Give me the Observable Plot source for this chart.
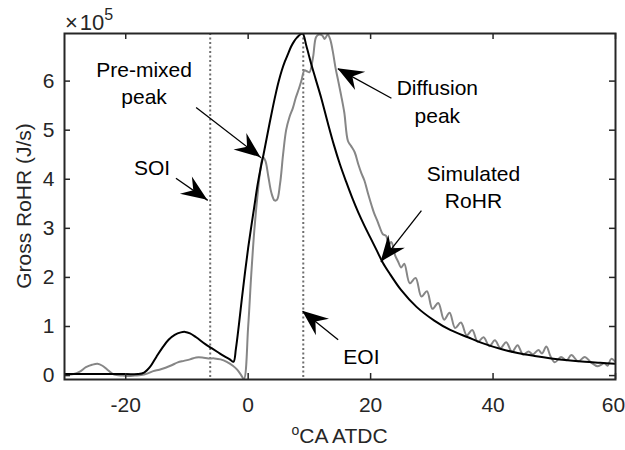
<!DOCTYPE html>
<html><head><meta charset="utf-8">
<script src="https://cdn.jsdelivr.net/npm/d3@7"></script>
<script src="https://cdn.jsdelivr.net/npm/@observablehq/plot@0.6"></script>
<style>
body{margin:0;background:#fff;}
#chart{width:625px;height:450px;}
</style></head><body><div id="chart"></div>
<script>
// Crank angle (deg ATDC) and gross rate of heat release (x10^5 J/s)
const simX = [-30,-25,-20,-18,-17,-16,-15,-14,-13,-12,-11,-10.3,-9.5,-8.5,-7,-6,-5,-4,-3,-2.4,-2,-1.5,-1,-0.5,0,0.5,1,1.5,2,2.5,3,3.5,4,4.5,5,5.5,6,6.5,7,7.5,8,8.5,8.9,9.5,10.3,11,11.9,13,14,15,16,17,18,19,20,21,22,23,25,27.5,30.4,33,35.9,38.5,41.3,44,46.8,49.5,52.2,55,57.5,60];
const simY = [0.03,0.03,0.03,0.03,0.06,0.18,0.38,0.57,0.73,0.83,0.88,0.89,0.86,0.78,0.64,0.56,0.48,0.40,0.33,0.28,0.55,1.05,1.60,2.12,2.60,3.03,3.44,3.86,4.20,4.50,4.82,5.14,5.45,5.74,6.00,6.22,6.40,6.55,6.70,6.81,6.89,6.95,6.97,6.72,6.35,6.05,5.67,5.15,4.70,4.30,3.95,3.62,3.32,3.05,2.80,2.55,2.30,2.10,1.74,1.40,1.12,0.93,0.78,0.65,0.54,0.46,0.40,0.35,0.31,0.28,0.26,0.24];

const measX = [-30,-28.5,-27.5,-26.5,-25.5,-24.6,-23.8,-23,-22.2,-21.5,-20.5,-19.5,-18.5,-17.5,-16.5,-15.5,-14.5,-13.5,-12.5,-11.5,-10.5,-9.5,-8.5,-7.5,-6.5,-5.5,-4.5,-3.5,-2.5,-1.8,-1.2,-0.7,0,0.5,1,1.6,2,2.4,2.8,3.3,3.8,4.3,4.7,5.2,5.7,6.2,6.75,7.3,7.8,8.3,8.7,9.2,9.6,10,10.6,11.1,11.6,12.1,12.5,13,13.4,13.8,14.3,14.7,15.2,15.7,16.3,16.8,17.4,18,18.5,19,19.6,20.2,20.6,21.1,21.5,22,22.5,23,23.4,24,24.5,25,25.5,26.4,27.35,28.3,29.2,30.1,31.05,32,32.9,33.8,34.75,35.7,36.6,37.5,38.45,39.4,40.3,41.2,42.15,43.1,44,44.9,45.8,46.5,47.4,48,48.7,49.4,50.1,51.1,52,52.8,53.9,55,56,57.1,58.2,58.7,59.3,60];
const measY = [0.02,0.03,0.08,0.17,0.22,0.24,0.20,0.12,0.04,0.01,0.00,-0.01,0.00,0.01,0.04,0.09,0.12,0.16,0.21,0.27,0.30,0.33,0.37,0.37,0.35,0.35,0.33,0.28,0.20,0.12,0.02,-0.07,1.00,2.05,2.95,3.77,4.20,4.45,4.38,4.05,3.72,3.57,3.58,3.90,4.50,5.00,5.27,5.45,5.67,5.85,6.01,6.22,6.20,6.18,6.49,6.90,6.95,6.93,6.86,6.95,6.85,6.62,6.25,6.01,5.70,5.36,4.78,4.68,4.55,4.30,4.12,3.97,3.70,3.45,3.30,3.15,3.02,2.88,2.85,2.68,2.72,2.45,2.32,2.20,2.28,1.88,1.99,1.61,1.72,1.36,1.48,1.14,1.28,0.97,1.08,0.82,0.93,0.69,0.78,0.60,0.72,0.56,0.68,0.48,0.62,0.43,0.49,0.43,0.52,0.45,0.59,0.39,0.27,0.38,0.31,0.42,0.29,0.38,0.27,0.19,0.25,0.20,0.34,0.28];

const injectionMarks = [-6.2, 9]; // SOI, EOI
const xTicks = [-20, 0, 20, 40, 60];
const yTicks = [0, 1, 2, 3, 4, 5, 6];

const noteText = ["Pre-mixed\npeak", "SOI", "Diffusion\npeak", "Simulated\nRoHR", "EOI"];
const noteX = [-17.0, -15.7, 30.9, 36.8, 18.5];
const noteY = [5.98, 4.26, 5.61, 3.87, 0.41];
const arrowFromX = [-8.5, -11.8, 23.4, 28.3, 14.7];
const arrowFromY = [5.46, 4.02, 5.65, 3.36, 0.73];
const arrowToX = [2.1, -6.6, 14.66, 21.7, 8.9];
const arrowToY = [4.44, 3.57, 6.25, 2.31, 1.31];

const W = 625, H = 450, mL = 64, mR = 10, mT = 33, mB = 71;
const plotW = W - mL - mR, plotH = H - mT - mB;
const FONT = "'Liberation Sans', Arial, Helvetica, sans-serif";
const AX = "#262626";

const sim = simX.map((x, i) => ({x, y: simY[i]}));
const meas = measX.map((x, i) => ({x, y: measY[i]}));
const notes = noteText.map((t, i) => ({t, x: noteX[i], y: noteY[i]}));
const arrows = arrowFromX.map((x1, i) => ({x1, y1: arrowFromY[i], x2: arrowToX[i], y2: arrowToY[i]}));
const fmt = d => String(d);

const plot = Plot.plot({
  width: W, height: H,
  marginLeft: mL, marginRight: mR, marginTop: mT, marginBottom: mB,
  style: {fontFamily: FONT, fontSize: "21px", color: AX, background: "#fff"},
  x: {domain: [-30, 60]},
  y: {domain: [-0.08, 6.97]},
  marks: [
    Plot.ruleX(injectionMarks, {stroke: "#6f6f6f", strokeWidth: 2, strokeDasharray: "2,2.5"}),
    Plot.line(meas, {x: "x", y: "y", stroke: "#868686", strokeWidth: 2, curve: "catmull-rom", clip: true}),
    Plot.line(sim, {x: "x", y: "y", stroke: "#000", strokeWidth: 2, curve: "catmull-rom", clip: true}),
    Plot.link(arrows, {x1: "x1", y1: "y1", x2: "x2", y2: "y2", stroke: "#000", strokeWidth: 1.3}),
    Plot.text(notes, {x: "x", y: "y", text: "t", fontSize: 21, lineHeight: 1.3, fill: "#000"}),
    Plot.ruleX(xTicks, {insetTop: plotH - 6, stroke: AX, strokeWidth: 1.5}),
    Plot.ruleX(xTicks, {insetBottom: plotH - 6, stroke: AX, strokeWidth: 1.5}),
    Plot.ruleY(yTicks, {insetLeft: plotW - 6, stroke: AX, strokeWidth: 1.5}),
    Plot.ruleY(yTicks, {insetRight: plotW - 6, stroke: AX, strokeWidth: 1.5}),
    Plot.frame({stroke: AX, strokeWidth: 2}),
    Plot.axisX(xTicks.slice(0, -1), {tickSize: 0, tickPadding: 18, label: null, fontSize: 21, fill: AX, tickFormat: fmt}),
    Plot.axisX(xTicks.slice(-1), {tickSize: 0, tickPadding: 18, label: null, fontSize: 21, fill: AX, tickFormat: fmt, dx: -2}),
    Plot.axisY(yTicks, {tickSize: 0, tickPadding: 10, label: null, fontSize: 21, fill: AX, tickFormat: fmt})
  ]
});

document.getElementById("chart").appendChild(plot);

// filled arrowheads, positioned through Plot's own scales
const sx = plot.scale("x"), sy = plot.scale("y");
const svg = d3.select(plot);
const L = 26, Wd = 10.5, N = 17;
const heads = svg.append("g");
arrows.forEach(a => {
  const x1 = sx.apply(a.x1), y1 = sy.apply(a.y1), x2 = sx.apply(a.x2), y2 = sy.apply(a.y2);
  const d = Math.hypot(x2 - x1, y2 - y1), ux = (x2 - x1) / d, uy = (y2 - y1) / d;
  const px = -uy, py = ux;
  const pts = [
    [x2, y2],
    [x2 - L * ux + Wd * px, y2 - L * uy + Wd * py],
    [x2 - N * ux, y2 - N * uy],
    [x2 - L * ux - Wd * px, y2 - L * uy - Wd * py]
  ];
  heads.append("path").attr("d", "M" + pts.map(p => p.join(",")).join("L") + "Z").attr("fill", "#000");
});

// exponent label
const ex = svg.append("text").attr("x", mL + 1).attr("y", 30).attr("fill", AX)
  .attr("text-anchor", "start").attr("font-family", FONT).style("font-size", "22px");
ex.append("tspan").text("\u00d7");
ex.append("tspan").attr("dx", 2).text("10");
ex.append("tspan").attr("dy", -10).style("font-size", "16px").text("5");

// x axis label
const xl = svg.append("text").attr("x", mL + plotW / 2).attr("y", 443).attr("fill", AX)
  .attr("text-anchor", "middle").attr("font-family", FONT).style("font-size", "21px");
xl.append("tspan").attr("dy", -8).style("font-size", "14px").text("o");
xl.append("tspan").attr("dy", 8).text("CA ATDC");

// y axis label
svg.append("text").attr("transform", `translate(31,${mT + plotH / 2}) rotate(-90)`)
  .attr("text-anchor", "middle").attr("fill", AX).attr("font-family", FONT).style("font-size", "21px")
  .text("Gross RoHR (J/s)");
</script></body></html>
